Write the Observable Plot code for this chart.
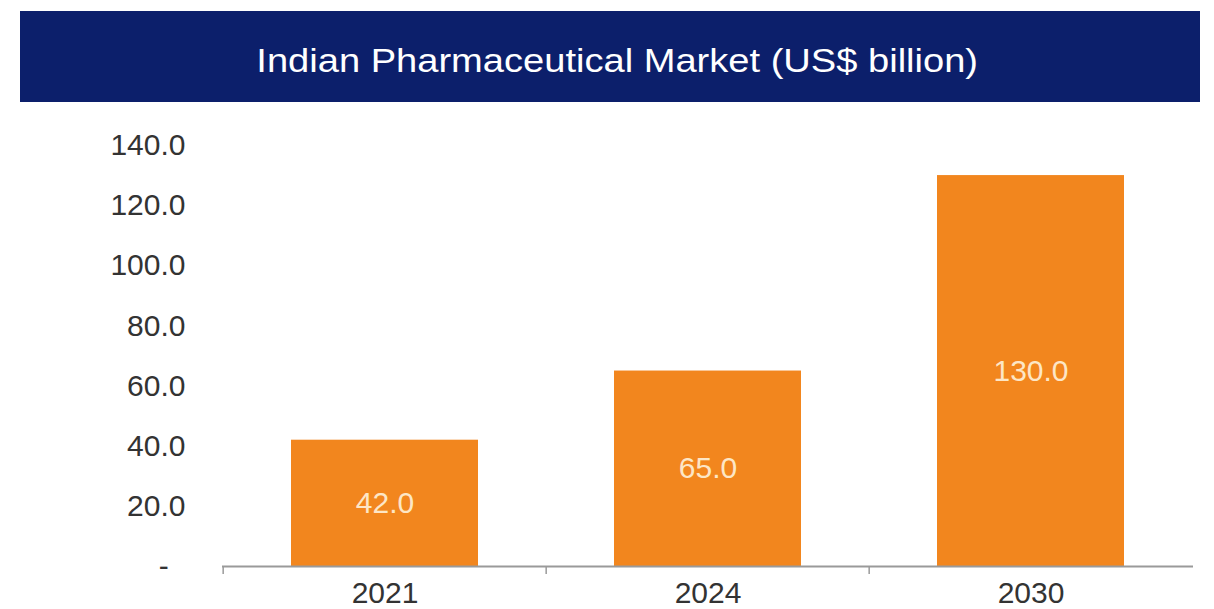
<!DOCTYPE html>
<html>
<head>
<meta charset="utf-8">
<script src="https://cdn.jsdelivr.net/npm/d3@7"></script>
<script src="https://cdn.jsdelivr.net/npm/@observablehq/plot@0.6"></script>
<style>
  html, body { margin: 0; padding: 0; background: #ffffff; }
  body { width: 1214px; height: 609px; overflow: hidden; font-family: "Liberation Sans", Arial, sans-serif; }
  .title {
    margin: 11px 0 0 20px; width: 1180px; height: 91px; background: #0c1f6b;
    color: #ffffff; font-size: 34px; display: flex; align-items: center; justify-content: center;
    box-sizing: border-box; padding-top: 8px; padding-left: 14px;
  }
  .title span { display: inline-block; transform: scaleX(1.12); }
  #chart svg { display: block; }
</style>
</head>
<body>
<div class="title"><span>Indian Pharmaceutical Market (US$ billion)</span></div>
<div id="chart"></div>
<script>
const years = ["2021", "2024", "2030"];
const values = [42.0, 65.0, 130.0];
const yTicks = [0, 20, 40, 60, 80, 100, 120, 140];

const data = years.map((year, i) => ({year, value: values[i]}));

const W = 1214, ML = 222, MR = 21;
const step = (W - ML - MR) / years.length;

const chart = Plot.plot({
  width: W,
  height: 507,
  marginTop: 43,
  marginBottom: 43,
  marginLeft: ML,
  marginRight: MR,
  style: {fontFamily: "'Liberation Sans', Arial, sans-serif", fontSize: "30px", color: "#333333", background: "transparent"},
  x: {domain: years, paddingInner: 0.422, paddingOuter: 0.211, label: null},
  y: {domain: [0, 140], label: null},
  marks: [
    Plot.barY(data, {x: "year", y: "value", fill: "#f2861e"}),
    Plot.ruleY([0], {stroke: "#9a9a9a", strokeWidth: 2}),
    Plot.ruleX(years, {x: d => d, dx: -step / 2, y1: 0, y2: 0, insetBottom: -8, stroke: "#9a9a9a", strokeWidth: 1.5}),
    Plot.text(data, {x: "year", y: d => d.value / 2, text: d => d.value.toFixed(1), fill: "#fde6c6", fontSize: 30}),
    Plot.axisY(yTicks, {tickSize: 0, tickPadding: 37, fontSize: 30, fill: "#333333",
      tickFormat: d => d === 0 ? "-\u2007" : d.toFixed(1)}),
    Plot.axisX({tickSize: 0, tickPadding: 15, fontSize: 30, fill: "#333333"})
  ]
});
document.getElementById("chart").appendChild(chart);
</script>
</body>
</html>
